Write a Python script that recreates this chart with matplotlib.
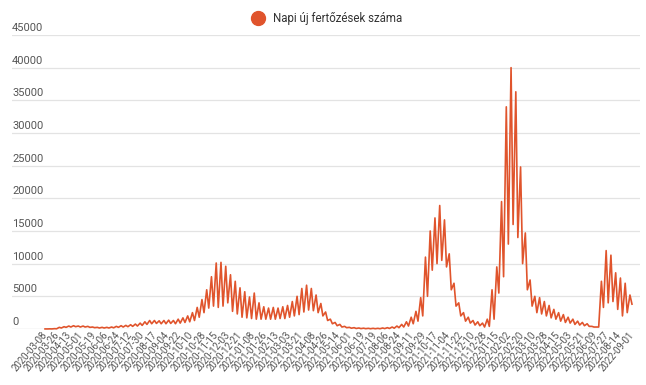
import matplotlib
matplotlib.use("Agg")
import matplotlib.pyplot as plt
from matplotlib.lines import Line2D

plt.rcParams['font.family'] = ['Roboto', 'DejaVu Sans']

# tengelyfeliratok (minden 18. sor)
date_labels = [
    "2020-03-08", "2020-03-26", "2020-04-13", "2020-05-01", "2020-05-19", "2020-06-06",
    "2020-06-24", "2020-07-12", "2020-07-30", "2020-08-17", "2020-09-04", "2020-09-22",
    "2020-10-10", "2020-10-28", "2020-11-15", "2020-12-03", "2020-12-21", "2021-01-08",
    "2021-01-26", "2021-02-13", "2021-03-03", "2021-03-21", "2021-04-08", "2021-04-26",
    "2021-05-14", "2021-06-01", "2021-06-19", "2021-07-19", "2021-08-06", "2021-08-24",
    "2021-09-11", "2021-09-29", "2021-10-17", "2021-11-04", "2021-11-22", "2021-12-10",
    "2021-12-28", "2022-01-15", "2022-02-02", "2022-02-20", "2022-03-10", "2022-03-28",
    "2022-04-15", "2022-05-03", "2022-05-21", "2022-06-09", "2022-07-27", "2022-08-14",
    "2022-09-01",
]

# heti csúcs és heti mélypont (leolvasott becslések)
weekly_high = [
    10, 20, 50, 250, 350, 450, 500, 450, 450, 400,
    300, 250, 250, 250, 300, 400, 500, 550, 650, 750,
    900, 1100, 1300, 1300, 1250, 1300, 1350, 1300, 1500, 1700,
    2000, 2500, 3300, 4500, 6000, 8000, 10100, 10200, 9600, 8300,
    7300, 6300, 5700, 4900, 5500, 4000, 3400, 3200, 3300, 3200,
    3400, 3600, 4200, 5000, 6200, 6700, 6200, 5200, 3900, 2600,
    1500, 1000, 700, 400, 250, 200, 150, 120, 100, 100,
    100, 150, 200, 300, 450, 700, 1100, 1800, 2700, 4800,
    11000, 15000, 17000, 18900, 16700, 11500, 7000, 4000, 2500, 1800,
    1300, 1100, 900, 1500, 6000, 9500, 19500, 34000, 40000, 36300,
    24800, 14700, 7500, 5000, 4800, 4200, 3600, 3000, 2500, 2200,
    1800, 1500, 1200, 1000, 800, 400, 300, 7300, 12000, 11300,
    8600, 7800, 7000, 5200,
]
weekly_low = [
    5, 10, 30, 150, 250, 300, 350, 300, 300, 250,
    200, 150, 150, 150, 180, 250, 300, 350, 400, 450,
    550, 700, 800, 850, 800, 800, 850, 800, 900, 1000,
    1100, 1300, 1800, 2500, 3200, 3500, 3300, 3500, 4000, 2700,
    2300, 1800, 1700, 1600, 1500, 1500, 1500, 1500, 1500, 1600,
    1600, 1800, 2000, 2200, 2600, 2900, 2800, 2500, 2000, 1300,
    800, 500, 300, 200, 120, 80, 60, 50, 40, 40,
    40, 60, 80, 120, 200, 300, 450, 800, 1200, 2000,
    5000, 9000, 10000, 10500, 9500, 6000, 3500, 2000, 1200, 900,
    600, 500, 300, 400, 1500, 5500, 8000, 13000, 16000, 14000,
    10000, 6000, 3500, 2500, 2300, 2000, 1700, 1500, 1200, 1000,
    900, 700, 600, 500, 400, 300, 300, 3300, 4000, 4200,
    3000, 2000, 2500, 3800,
]

y_ticks = [0, 5000, 10000, 15000, 20000, 25000, 30000, 35000, 40000, 45000]

line_color = '#e0542c'

# sorindex -> érték (heti csúcs a hét elején, mélypont 3 nappal később)
xs, ys = [], []
for w, (hi, lo) in enumerate(zip(weekly_high, weekly_low)):
    xs += [7 * w, 7 * w + 3]
    ys += [hi, lo]

fig = plt.figure(figsize=(6.46, 3.85), dpi=100)
ax = fig.add_axes([0.0186, 0.1455, 0.9721, 0.7636])

ax.plot(xs, ys, color=line_color, linewidth=1.2, clip_on=False, zorder=3)

ax.set_xlim(-48.6, 875.8)
ax.set_ylim(0, 45000)

# rácsvonalak
for v in y_ticks:
    ax.axhline(v, color='#cccccc' if v == 0 else '#e3e3e3', linewidth=0.9, zorder=1)
    ax.annotate(str(v), xy=(0, v), xycoords=('axes fraction', 'data'),
                xytext=(0, 1.5), textcoords='offset points',
                ha='left', va='bottom', fontsize=8, color='#555555')

ax.set_yticks([])
ax.set_xticks([18 * i for i in range(len(date_labels))])
ax.set_xticklabels(date_labels, rotation=50, ha='right', va='center',
                   rotation_mode='anchor', fontsize=6.9, color='#555555')
ax.tick_params(axis='x', length=0, pad=3)
for s in ax.spines.values():
    s.set_visible(False)

handle = Line2D([], [], marker='o', linestyle='', markersize=10,
                markerfacecolor=line_color, markeredgecolor=line_color)
fig.legend([handle], ['Napi új fertőzések száma'], loc='center',
           bbox_to_anchor=(0.502, 0.951), frameon=False, fontsize=8.3,
           handletextpad=0.3, labelcolor='#333333')

fig.savefig('out.png', dpi=100)
